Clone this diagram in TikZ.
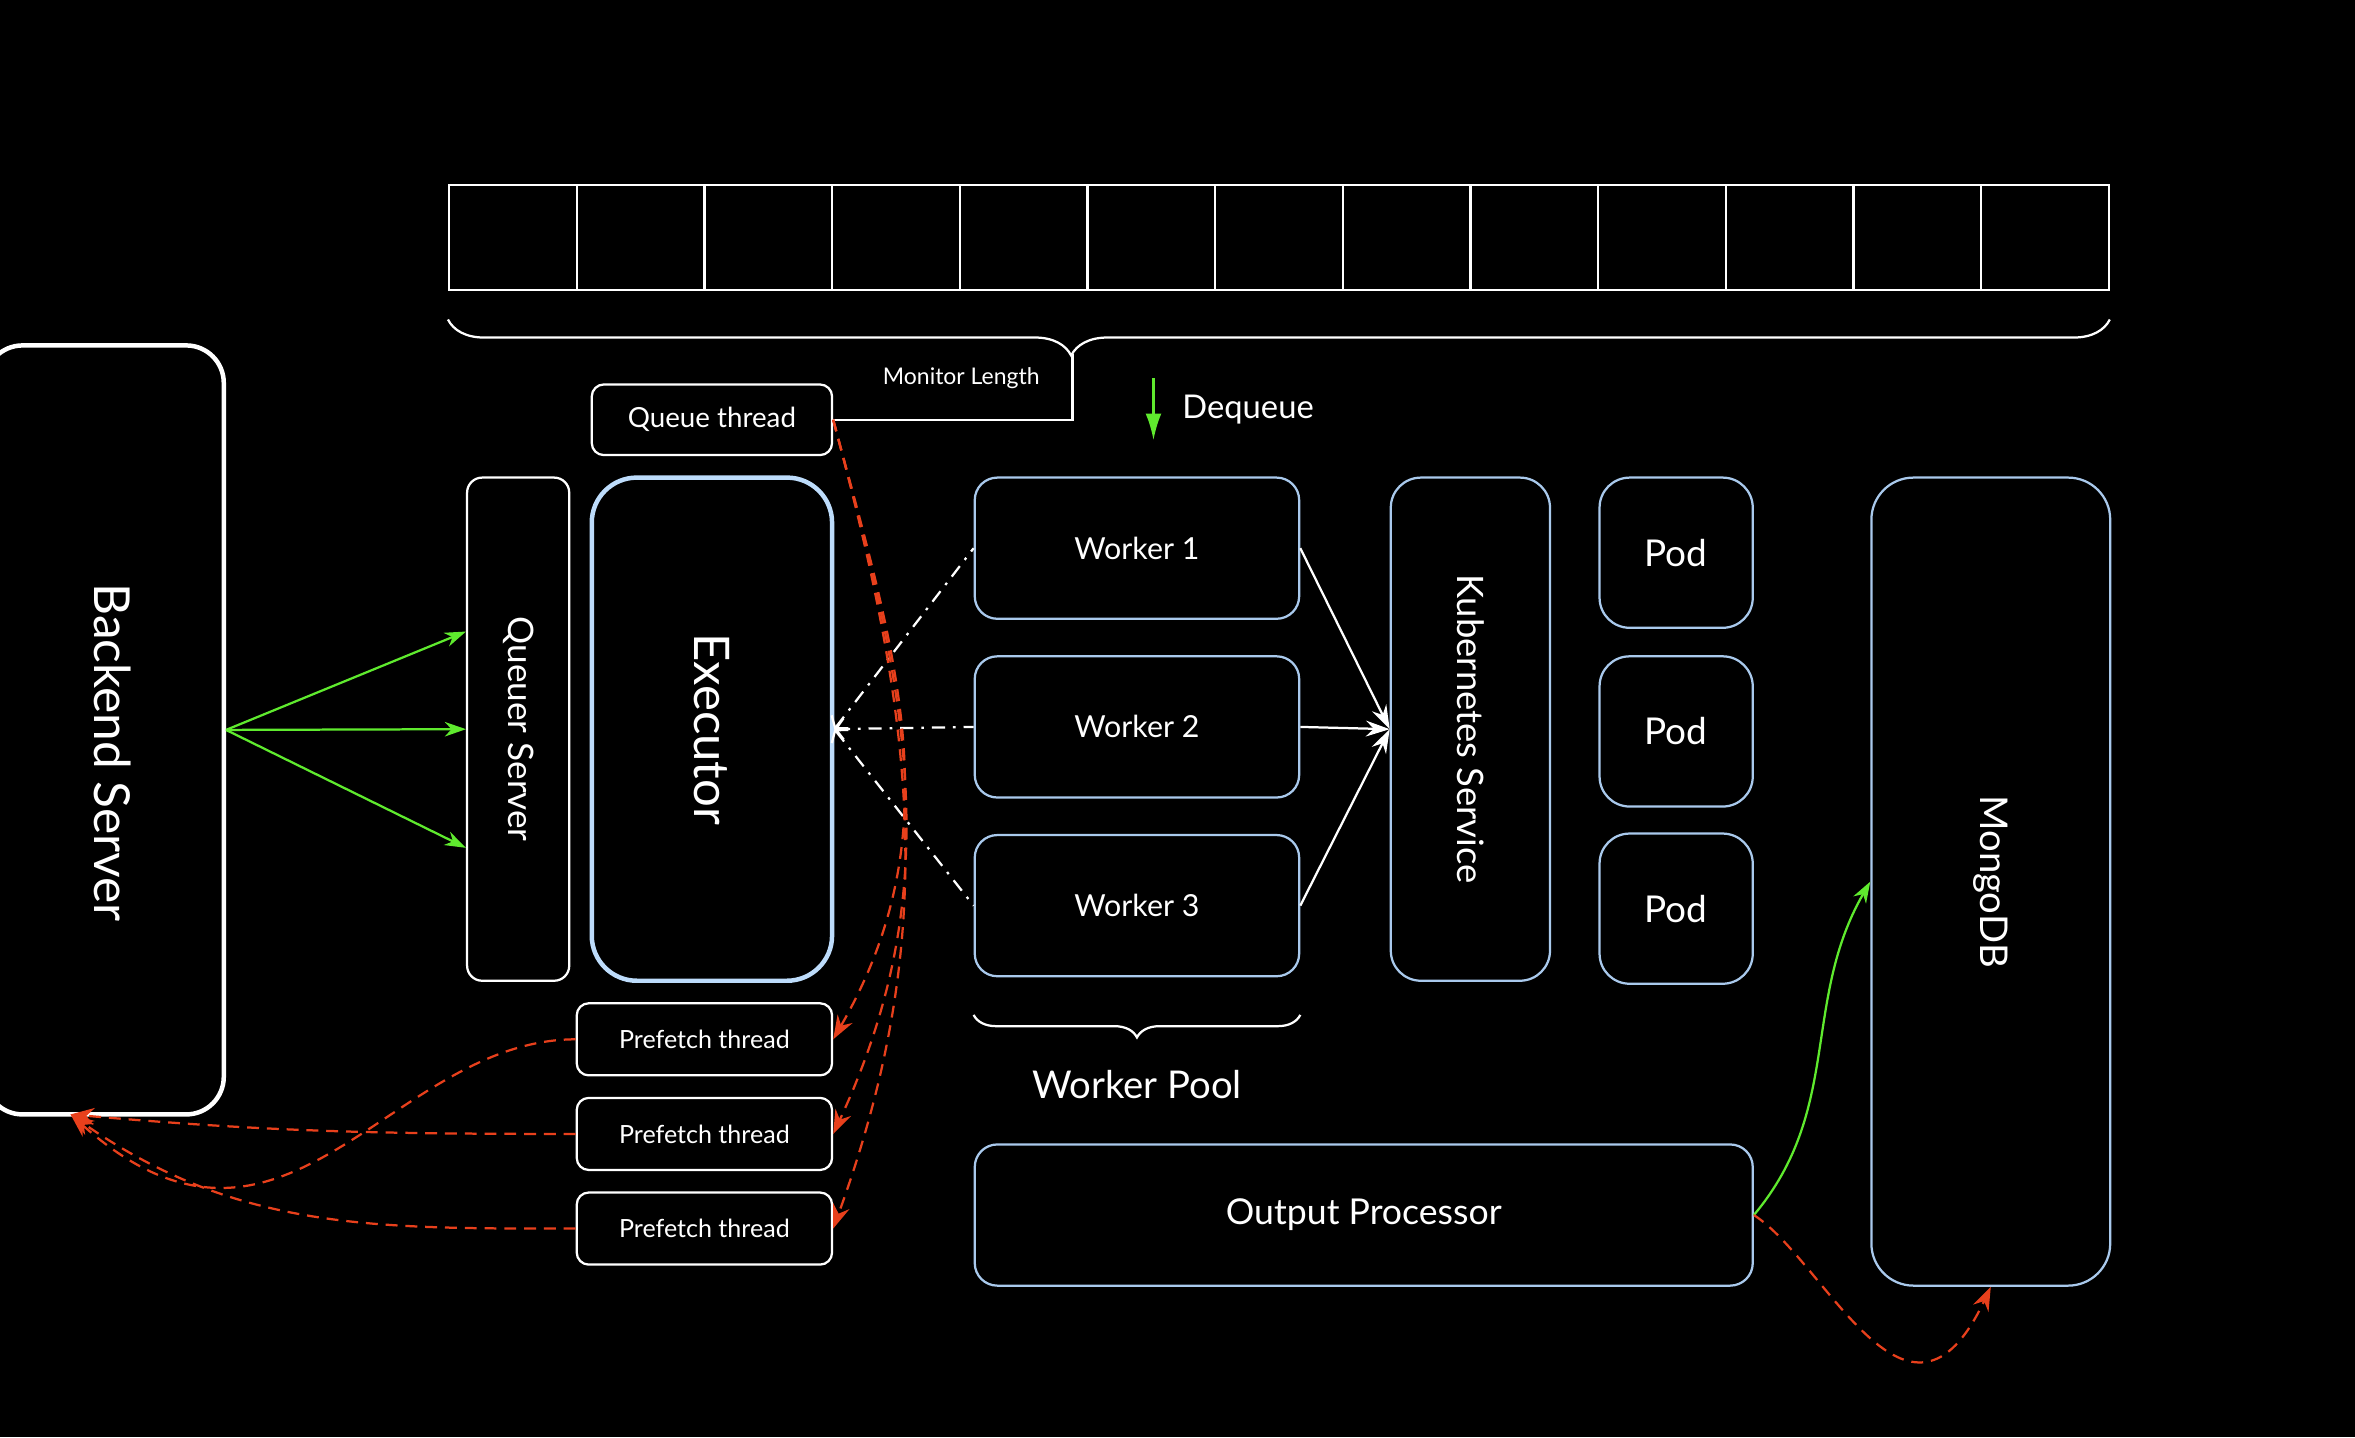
\documentclass[tikz,border=0pt]{standalone}
\usepackage{fontspec}
\setmainfont{Lato}
\usetikzlibrary{arrows.meta,decorations.pathreplacing}

\definecolor{paleblue}{HTML}{A9C9EC}
\definecolor{execblue}{HTML}{BDDCFB}
\definecolor{flowgreen}{HTML}{5FEA2E}
\definecolor{fetchred}{HTML}{E8401C}

\def\cellw{1.70}
\newcommand{\sidetext}[1]{\rotatebox{-90}{#1}}
\newcommand{\fs}[1]{\fontsize{#1}{#1}\selectfont}

\begin{document}
\begin{tikzpicture}[white, line width=0.85pt]
	\path[use as bounding box, fill=black] (0,0) rectangle (31.36,19.14);
	\tikzstyle{box}=[draw=white, rounded corners=0.16cm, inner sep=0pt]
	\tikzstyle{blue box}=[box, draw=paleblue]
	\tikzstyle{cell}=[draw=white, minimum width=\cellw cm, minimum height=1.40cm, inner sep=0pt]
	\tikzstyle{worker}=[blue box, rounded corners=0.3cm, minimum width=4.32cm, minimum height=1.88cm, font=\fs{11.5pt}]
	\tikzstyle{pod}=[blue box, rounded corners=0.4cm, minimum width=2.04cm, minimum height=2.00cm, font=\fs{14pt}]
	\tikzstyle{prefetch}=[box, minimum width=3.40cm, minimum height=0.96cm, font=\fs{9.5pt}]
	\tikzstyle{brace}=[draw=white, decorate]
	\tikzstyle{fetch}=[->, fetchred, dash pattern=on 4.5pt off 3pt, >={Stealth[length=9pt,width=6.5pt,inset=3pt]}]
	\tikzstyle{push}=[->, flowgreen, >={Stealth[length=8pt,width=5.5pt,inset=2.5pt]}]
	\tikzstyle{pull}=[<-, white, dash pattern=on 5pt off 3pt on 1pt off 3pt, >={Straight Barb[length=3pt,width=8pt]}]
	\tikzstyle{route}=[->, white, >={Stealth[length=9pt,width=6pt,inset=3pt]}]
	
	% Draw the queue cells
	\foreach \i in {1,...,13}
	\node[cell] (Q-\i) at ({5.98+\cellw*(\i-0.5)},15.98) {};
	
	% Brace under the queue
	\draw[brace, decoration={brace, mirror, amplitude=0.48cm, aspect=0.375}] ([yshift=-0.38cm]Q-1.south west) -- ([yshift=-0.38cm]Q-13.south east);
	\coordinate (ML) at (14.28,14.42);
	
	% Draw the servers
	\node[box, line width=1.7pt, rounded corners=0.5cm, minimum width=3.18cm, minimum height=10.24cm, font=\fs{18.8pt}] (backend) at (1.39,9.42) {\sidetext{\hspace*{0.6cm}\raisebox{0.22cm}{Backend Server}}};
	\node[box, rounded corners=0.2cm, minimum width=1.36cm, minimum height=6.70cm, font=\fs{13.3pt}] (queuer) at (6.90,9.43) {\sidetext{Queuer Server}};
	\node[box, draw=execblue, line width=1.7pt, rounded corners=0.6cm, minimum width=3.20cm, minimum height=6.70cm, font=\fs{18.6pt}] (executor) at (9.48,9.43) {\sidetext{Executor}};
	\node[box, minimum width=3.20cm, minimum height=0.94cm, font=\fs{10.5pt}] (qthread) at (9.48,13.55) {Queue thread};
	
	% Draw the prefetch threads
	\foreach \n/\y in {1/5.30,2/4.04,3/2.78}
	\node[prefetch] (F-\n) at (9.38,\y) {Prefetch thread};
	
	% Draw the worker pool
	\foreach \n/\y in {1/11.84,2/9.46,3/7.08}
	\node[worker] (W-\n) at (15.14,\y) {Worker \n};
	\draw[brace, decoration={brace, mirror, amplitude=0.30cm}] ([yshift=-0.50cm]W-3.south west) -- ([yshift=-0.50cm]W-3.south east);
	\node[font=\fs{14.5pt}] (pool) at (15.14,4.70) {Worker Pool};
	
	\node[blue box, rounded corners=0.4cm, minimum width=2.12cm, minimum height=6.70cm, font=\fs{13.8pt}] (k8s) at (19.58,9.43) {\sidetext{Kubernetes Service}};
	
	% Draw the pods
	\foreach \n/\y in {1/11.78,2/9.40,3/7.04}
	\node[pod] (P-\n) at (22.32,\y) {Pod};
	
	\node[blue box, rounded corners=0.56cm, minimum width=3.18cm, minimum height=10.76cm, font=\fs{14.5pt}] (mongo) at (26.51,7.40) {\sidetext{MongoDB}};
	\node[blue box, rounded corners=0.3cm, minimum width=10.36cm, minimum height=1.88cm, font=\fs{13.5pt}] (output) at (18.16,2.96) {Output Processor};
	
	% Annotate the queue
	\node[font=\fs{8.7pt}] (mon) at (12.80,14.10) {Monitor Length};
	\draw (ML) |- (qthread.east);
	\coordinate (DQ-top) at (15.36,14.10);
	\coordinate (DQ-bot) at (15.36,13.28);
	\draw[-{Latex[length=10pt,width=6pt]}, flowgreen] (DQ-top) -- (DQ-bot);
	\node[font=\fs{12.4pt}] (deq) at (16.62,13.68) {Dequeue};
	
	% Backend to queuer
	\foreach \s in {1.30,0,-1.58}
	\draw[push] (backend.east) -- ([yshift=\s cm]queuer.west);
	
	% Workers to executor and kubernetes
	\foreach \n in {1,2,3}
	{
		\draw[pull] (executor.east) -- (W-\n.west);
		\draw[route] (W-\n.east) -- (k8s.west);
	}
	
	% Queue thread to prefetch threads
	\foreach \n/\a in {1/60,2/65,3/70}
	\draw[fetch] (qthread.east) to[out=-75,in=\a] (F-\n.east);
	
	% Prefetch threads back to the backend
	\coordinate (bin) at (0.94,4.30);
	\draw[fetch] (F-1.west) .. controls +(-2.48,0) and +(2.86,-2.56) .. (bin);
	\draw[fetch] (F-2.west) to[out=180,in=-5] (bin);
	\draw[fetch] (F-3.west) to[out=180,in=-35] (bin);
	
	% Output to MongoDB
	\draw[push] (output.east) to[out=50,in=-120] (mongo.west);
	\draw[fetch] (output.east) .. controls +(0.96,-0.62) and +(-1.10,-2.34) .. (mongo.south);
\end{tikzpicture}
\end{document}
